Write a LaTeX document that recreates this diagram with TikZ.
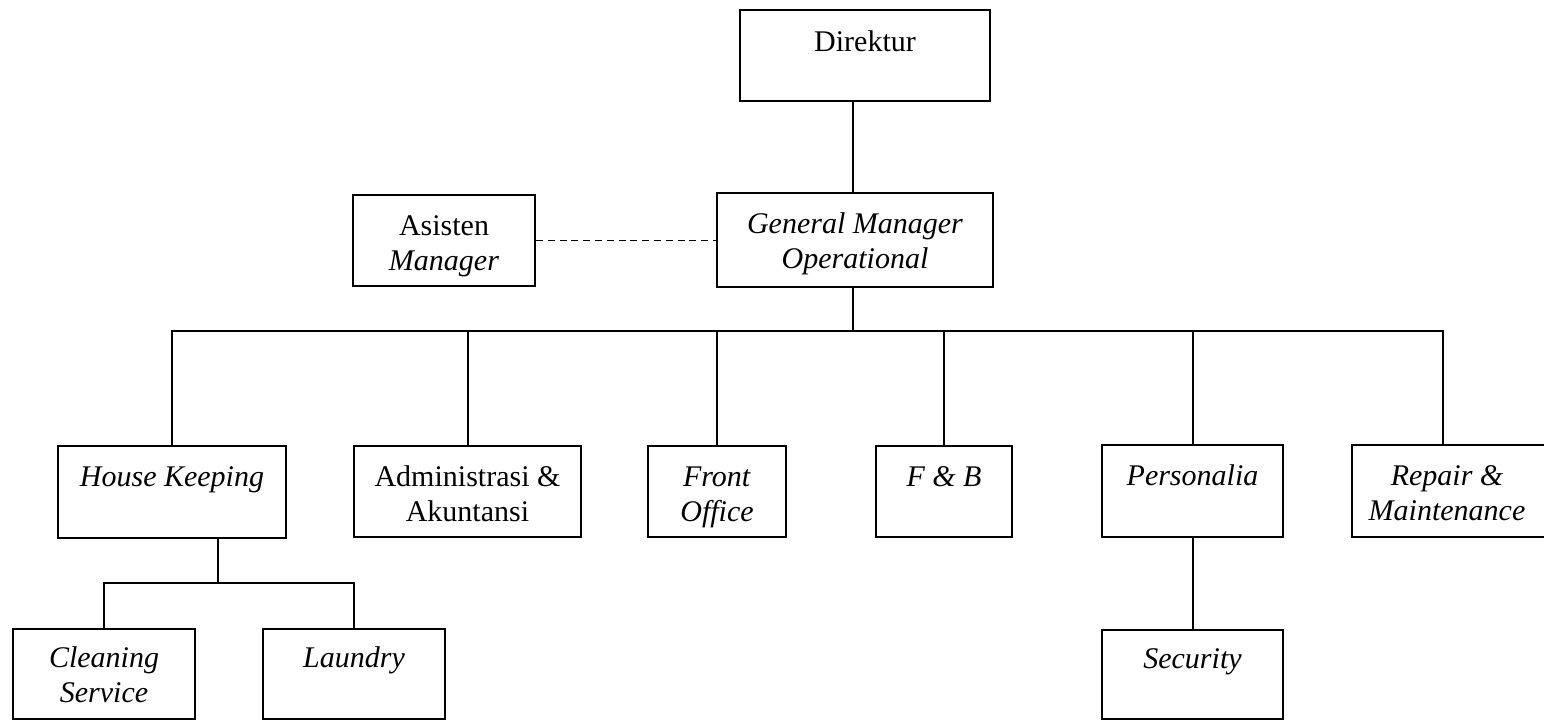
\documentclass[tikz,border=0pt]{standalone}
\usepackage{fontspec}
\setmainfont{Liberation Serif}
\begin{document}
\begin{tikzpicture}[x=0.5pt,y=-0.5pt,
  orgbox/.style={draw, rectangle, line width=0.9pt, inner sep=0pt},
  lbl/.style={anchor=north, align=center, inner sep=0pt, font=\fontsize{15}{17.5}\selectfont},
  link/.style={line width=0.85pt},
  dashlink/.style={line width=0.85pt, dash pattern=on 3.5pt off 2.4pt}]
\useasboundingbox (0,0) rectangle (1544,721);
\fill[white] (0,0) rectangle (1544,721);

% boxes
\node[orgbox, minimum width=125pt, minimum height=45.5pt] (dir)  at (865,55.5) {};
\node[orgbox, minimum width=138pt, minimum height=47pt]   (gm)   at (855,240) {};
\node[orgbox, minimum width=91pt,  minimum height=45.5pt] (asst) at (444,240.5) {};
\node[orgbox, minimum width=114pt, minimum height=46pt]   (hk)   at (172,492) {};
\node[orgbox, minimum width=113.5pt, minimum height=45.5pt] (adm) at (467.5,491.5) {};
\node[orgbox, minimum width=69pt,  minimum height=45.5pt] (fo)   at (717,491.5) {};
\node[orgbox, minimum width=68pt,  minimum height=45.5pt] (fb)   at (944,491.5) {};
\node[orgbox, minimum width=90.5pt, minimum height=46pt]  (pers) at (1192.5,491) {};
\node[orgbox, minimum width=97pt,  minimum height=46pt]   (rep)  at (1449,491) {};
\node[orgbox, minimum width=91pt,  minimum height=45pt]   (cs)   at (104,674) {};
\node[orgbox, minimum width=91pt,  minimum height=45pt]   (lau)  at (354,674) {};
\node[orgbox, minimum width=90.5pt, minimum height=44.5pt] (sec) at (1192.5,674.5) {};

% texts
\node[lbl] (dirT)  at ([yshift=-9pt]dir.north)  {\strut Direktur};
\node[lbl] (gmT)   at ([yshift=-8.5pt]gm.north)   {\strut\textit{General Manager}\\\textit{Operational}};
\node[lbl] (asstT) at ([yshift=-8.25pt]asst.north) {\strut Asisten\\\textit{Manager}};
\node[lbl] (hkT)   at ([yshift=-8.5pt]hk.north)   {\strut\textit{House Keeping}};
\node[lbl] (admT)  at ([yshift=-8.5pt]adm.north)  {\strut Administrasi \&\\Akuntansi};
\node[lbl] (foT)   at ([yshift=-8.5pt]fo.north)   {\strut\textit{Front}\\\textit{Office}};
\node[lbl] (fbT)   at ([yshift=-8.5pt]fb.north)   {\strut\textit{F \& B}};
\node[lbl] (persT) at ([yshift=-8.5pt]pers.north) {\strut\textit{Personalia}};
\node[lbl] (repT)  at ([xshift=-1pt,yshift=-8.5pt]rep.north) {\strut\textit{Repair \&}\\\textit{Maintenance}};
\node[lbl] (csT)   at ([yshift=-7.5pt]cs.north)   {\strut\textit{Cleaning}\\\textit{Service}};
\node[lbl] (lauT)  at ([yshift=-7.5pt]lau.north)  {\strut\textit{Laundry}};
\node[lbl] (secT)  at ([yshift=-7.5pt]sec.north)  {\strut\textit{Security}};

% junctions
\coordinate (gmj)  at (853,331);
\coordinate (hkj)  at (218,583);
\coordinate (admin) at (468,446);
\coordinate (persin) at (1193,445);
\coordinate (repin) at (1443,445);

% connectors
\draw[link] (dir.south -| gmj) -- (gm.north -| gmj);
\draw[dashlink] (asst.east) -- (asst.east -| gm.west);
\draw[link] (gm.south -| gmj) -- (gmj);
\draw[link] (hk.north) |- (gmj);
\draw[link] (adm.north -| admin) |- (gmj);
\draw[link] (fo.north) |- (gmj);
\draw[link] (fb.north) |- (gmj);
\draw[link] (pers.north -| persin) |- (gmj);
\draw[link] (rep.north -| repin) |- (gmj);
\draw[link] (hk.south -| hkj) -- (hkj);
\draw[link] (cs.north) |- (hkj);
\draw[link] (lau.north) |- (hkj);
\draw[link] (pers.south -| persin) -- (sec.north -| persin);
\end{tikzpicture}
\end{document}
